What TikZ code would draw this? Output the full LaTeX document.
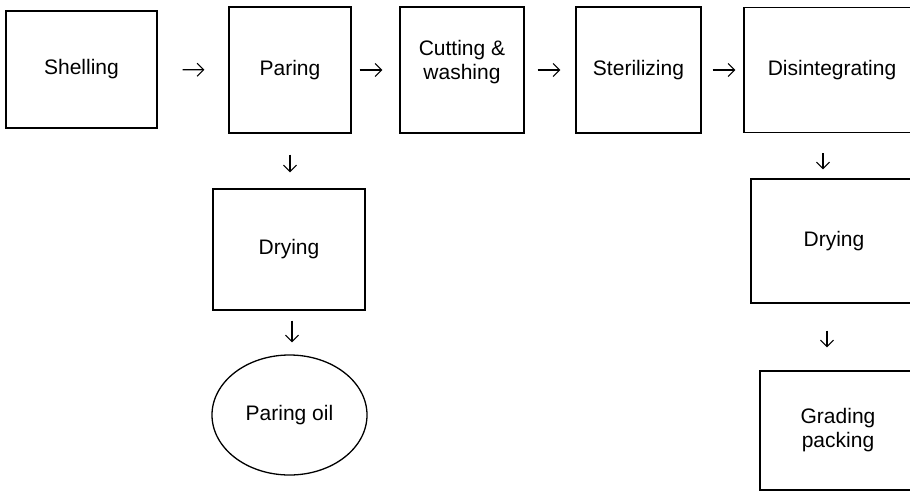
\documentclass[tikz,border=0pt]{standalone}
\usepackage{fontspec}
\setmainfont{Liberation Sans}
\usepackage{tikz}
\usetikzlibrary{shapes.geometric,arrows.meta}

\begin{document}
\begin{tikzpicture}[
      x=1pt, y=-1pt,
      every node/.style={align=center, font=\fontsize{21}{24}\selectfont},
      stage/.style={draw, line width=1.3pt, inner sep=0pt},
      product/.style={draw, ellipse, line width=1.3pt, inner sep=0pt, minimum width=155pt, minimum height=120pt},
      arrow/.style={line width=1.1pt, -{Straight Barb[length=6.5pt,width=13pt]}}
    ]
      \useasboundingbox (0,0) rectangle (910,491);
      % top row
      \node[stage, minimum width=151pt, minimum height=117pt] (shelling) at (81.5,69.5) {Shelling};
      \node[stage, minimum width=122pt, minimum height=126pt] (paring) at (290,70) {Paring};
      \node[stage, minimum width=124pt, minimum height=126pt] (cutting) at (462,70) {Cutting \&\\washing\\[-4pt]\mbox{}};
      \node[stage, minimum width=125pt, minimum height=126pt] (sterilizing) at (638.5,70) {Sterilizing};
      \node[stage, minimum width=176pt, minimum height=125pt] (disintegrating) at (832,70) {Disintegrating};
      % paring branch
      \node[stage, minimum width=152pt, minimum height=121pt] (drying) at (289,249.5) {Drying};
      \node[product] (oil) at (289.5,415) {Paring oil};
      % main branch
      \node[stage, minimum width=166pt, minimum height=124pt] (dryingb) at (834,241) {Drying};
      \node[stage, minimum width=156pt, minimum height=119pt] (grading) at (838,430.5) {Grading\\packing};
      \draw[arrow, shorten <=25pt, shorten >=24pt] (shelling) -- (paring);
      \draw[arrow, shorten <=8pt, shorten >=17pt] (paring) -- (cutting);
      \draw[arrow, shorten <=13pt, shorten >=15pt] (cutting) -- (sterilizing);
      \draw[arrow, shorten <=11pt, shorten >=8pt] (sterilizing) -- (disintegrating);
      \draw[arrow, shorten <=21pt, shorten >=16pt] (paring.south) -- ([xshift=1pt]drying.north);
      \draw[arrow, shorten <=10pt, shorten >=12pt] ([xshift=3pt]drying.south) -- ([xshift=2.5pt]oil.north);
      \draw[arrow, shorten <=20pt, shorten >=9pt] ([xshift=-9pt]disintegrating.south) -- ([xshift=-11pt]dryingb.north);
      \draw[arrow, shorten <=27pt, shorten >=23pt] ([xshift=-7pt]dryingb.south) -- ([xshift=-11pt]grading.north);
    \end{tikzpicture}
\end{document}
